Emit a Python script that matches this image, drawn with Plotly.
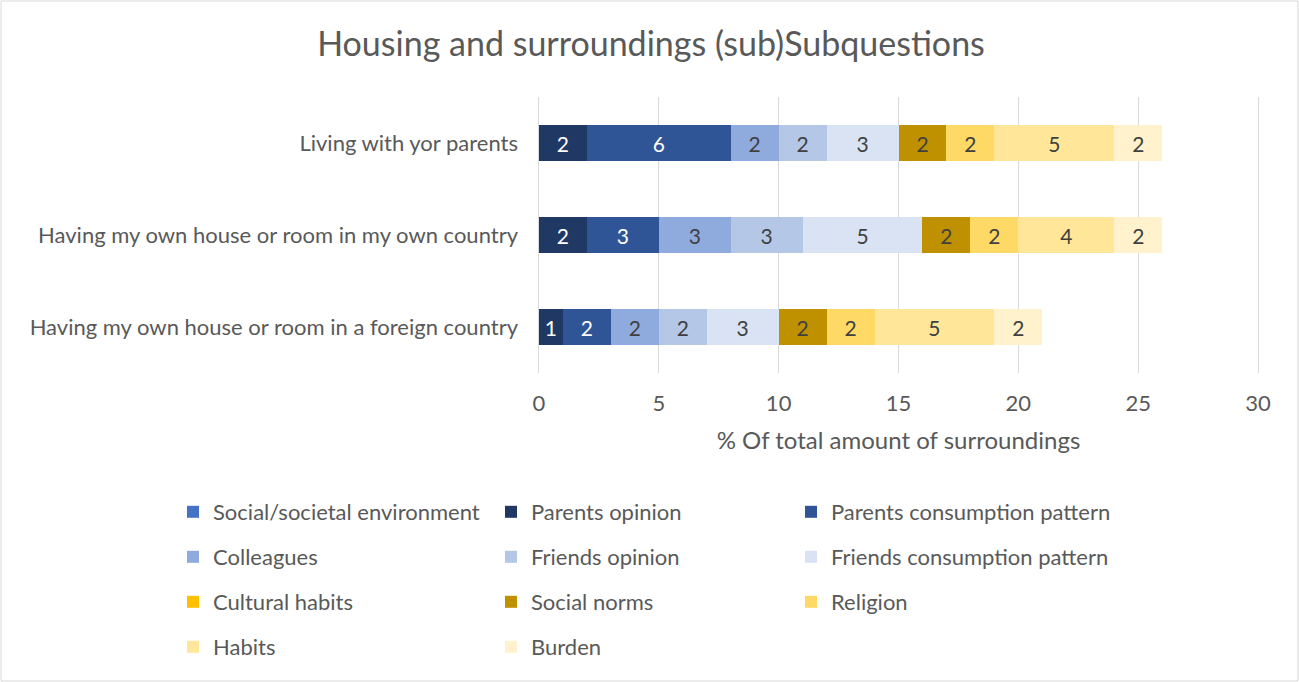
import plotly.graph_objects as go

categories = [
    "Living with yor parents",
    "Having my own house or room in my own country",
    "Having my own house or room in a foreign country",
]

series_names = [
    "Social/societal environment",
    "Parents opinion",
    "Parents consumption pattern",
    "Colleagues",
    "Friends opinion",
    "Friends consumption pattern",
    "Cultural habits",
    "Social norms",
    "Religion",
    "Habits",
    "Burden",
]

social_env = [0, 0, 0]
parents_opinion = [2, 2, 1]
parents_consumption = [6, 3, 2]
colleagues = [2, 3, 2]
friends_opinion = [2, 3, 2]
friends_consumption = [3, 5, 3]
cultural_habits = [0, 0, 0]
social_norms = [2, 2, 2]
religion = [2, 2, 2]
habits = [5, 4, 5]
burden = [2, 2, 2]

series_values = [
    social_env, parents_opinion, parents_consumption, colleagues,
    friends_opinion, friends_consumption, cultural_habits, social_norms,
    religion, habits, burden,
]

colors = [
    "#4472C4", "#203864", "#2F5597", "#8FAADC", "#B4C7E7", "#DAE3F3",
    "#FFC000", "#BF9000", "#FFD966", "#FFE699", "#FFF2CC",
]
label_colors = [
    "#FFFFFF", "#FFFFFF", "#FFFFFF", "#404040", "#404040", "#404040",
    "#404040", "#404040", "#404040", "#404040", "#404040",
]

tick_vals = [0, 5, 10, 15, 20, 25, 30]

FONT = "Lato"
GRAY = "#595959"
FS = 22

# plot area in pixels (range padded slightly so the 0 and 30 grid lines stay visible)
W, H = 1299, 682
L, R, T, B = 537, 39, 97, 309
PW, PH = W - L - R, H - T - B
X_RANGE = [-0.08, 30.08]

# legend grid: row centres and column start positions (px)
leg_rows = [512, 557, 602, 647]
leg_cols = [173, 491, 791]

fig = go.Figure()
for i, (name, vals) in enumerate(zip(series_names, series_values)):
    fig.add_trace(go.Bar(
        name=name,
        y=categories,
        x=vals,
        orientation="h",
        marker=dict(color=colors[i], line=dict(width=0)),
        text=[str(v) if v else "" for v in vals],
        textposition="inside",
        insidetextanchor="middle",
        textangle=0,
        textfont=dict(family=FONT, size=FS - 1, color=label_colors[i]),
        legend="legend" if i == 0 else f"legend{i + 1}",
        showlegend=True,
        hoverinfo="x+name",
    ))

layout_legends = {}
for i in range(len(series_names)):
    row, col = divmod(i, 3)
    key = "legend" if i == 0 else f"legend{i + 1}"
    layout_legends[key] = dict(
        x=(leg_cols[col] - L) / PW,
        y=(H - B - leg_rows[row]) / PH,
        xanchor="left",
        yanchor="middle",
        orientation="v",
        bgcolor="rgba(0,0,0,0)",
        font=dict(family=FONT, size=FS, color=GRAY),
        itemclick=False,
        visible=True,
    )

fig.update_layout(
    width=W,
    height=H,
    margin=dict(l=L, r=R, t=T, b=B),
    barmode="stack",
    bargap=0.61,
    showlegend=True,
    paper_bgcolor="white",
    plot_bgcolor="white",
    title=dict(
        text="Housing and surroundings (sub)Subquestions",
        x=651 / W,
        xanchor="center",
        y=1 - 44 / H,
        yanchor="middle",
        font=dict(family=FONT, size=34, color=GRAY),
    ),
    xaxis=dict(
        range=X_RANGE,
        tickvals=tick_vals,
        ticktext=[str(v) for v in tick_vals],
        showgrid=True,
        gridcolor="#D9D9D9",
        gridwidth=1.3,
        zeroline=True,
        zerolinecolor="#D9D9D9",
        zerolinewidth=1.3,
        showline=False,
        ticks="",
        ticklabelstandoff=15,
        tickfont=dict(family=FONT, size=FS, color=GRAY),
        title=dict(
            text="% Of total amount of surroundings",
            font=dict(family=FONT, size=24, color=GRAY),
            standoff=17,
        ),
    ),
    yaxis=dict(
        categoryorder="array",
        categoryarray=categories,
        autorange="reversed",
        showgrid=False,
        zeroline=False,
        showline=False,
        ticks="",
        ticklabelstandoff=18,
        tickfont=dict(family=FONT, size=FS, color=GRAY),
    ),
    shapes=[dict(
        type="rect",
        xref="paper", yref="paper",
        x0=(1 - L) / PW, x1=(W - 1 - L) / PW,
        y0=(H - B - (H - 1)) / PH, y1=(H - B - 1) / PH,
        line=dict(color="#D9D9D9", width=1),
        fillcolor="rgba(0,0,0,0)",
        layer="below",
    )],
    **layout_legends,
)

fig.write_html("out.html")
